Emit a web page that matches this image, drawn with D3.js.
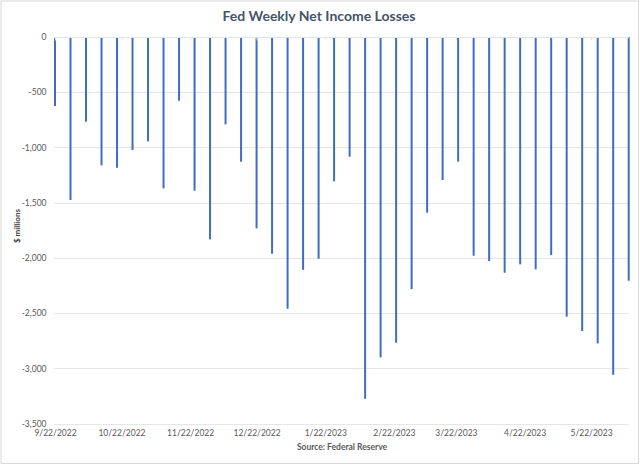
<!DOCTYPE html>
<html>
<head>
<meta charset="utf-8">
<script src="https://cdn.jsdelivr.net/npm/d3@7"></script>
<style>
  html, body { margin: 0; padding: 0; background: #fff; }
  svg { display: block; font-family: Lato, "Open Sans", sans-serif; }
</style>
</head>
<body>
<svg id="chart" width="640" height="465"></svg>
<script>
// ---- data ----
const firstWeek = "2022-09-22";
const values = [
  -625, -1476, -767, -1162, -1184, -1024, -945, -1371, -577, -1392,
  -1833, -791, -1129, -1733, -1963, -2461, -2108, -2008, -1307, -1084,
  -3276, -2901, -2769, -2283, -1591, -1295, -1129, -1981, -2029, -2135,
  -2059, -2104, -1975, -2533, -2663, -2775, -3059, -2207
];
const xTickLabels = ["9/22/2022", "10/22/2022", "11/22/2022", "12/22/2022",
  "1/22/2023", "2/22/2023", "3/22/2023", "4/22/2023", "5/22/2023"];
const yTicks = [0, -500, -1000, -1500, -2000, -2500, -3000, -3500];
const title = "Fed Weekly Net Income Losses";
const yLabel = "$ millions";
const source = "Source: Federal Reserve";

// ---- build ----
const parse = d3.timeParse("%Y-%m-%d");
const parseTick = d3.timeParse("%m/%d/%Y");
const start = parse(firstWeek);
const data = values.map((v, i) => ({ date: d3.timeDay.offset(start, 7 * i), value: v }));
const tickDates = xTickLabels.map(s => parseTick(s));

const svg = d3.select("#chart");
const W = 640, H = 465;

// chart area border
svg.append("rect").attr("x", 1).attr("y", 1).attr("width", W - 2.5).attr("height", H - 2.5)
  .attr("fill", "#fff").attr("stroke", "#d9d9d9").attr("stroke-width", 1);

const x = d3.scaleTime()
  .domain([start, data[data.length - 1].date])
  .range([55, 628.7]);
const y = d3.scaleLinear().domain([-3500, 0]).range([423.5, 37]);

const plotLeft = 54, plotRight = 629;

// gridlines
svg.append("g").selectAll("line").data(yTicks.filter(t => t !== 0)).join("line")
  .attr("x1", plotLeft).attr("x2", plotRight)
  .attr("y1", d => Math.round(y(d)) + 0.5).attr("y2", d => Math.round(y(d)) + 0.5)
  .attr("stroke", "#e6e6e6").attr("stroke-width", 1);

// y axis labels
const yAxis = d3.axisLeft(y).tickValues(yTicks).tickSize(0).tickPadding(0)
  .tickFormat(d => d3.format(",")(d).replace("−", "-"));
const gy = svg.append("g").attr("transform", "translate(46.5,0)").call(yAxis);
gy.select(".domain").remove();
gy.selectAll("text").attr("fill", "#595959").attr("font-size", "8.5px")
  .attr("font-family", "Lato, 'Open Sans', sans-serif");

// bars
svg.append("g").selectAll("rect").data(data).join("rect")
  .attr("x", d => x(d.date) - 1)
  .attr("width", 2)
  .attr("y", d => y(0))
  .attr("height", d => y(d.value) - y(0))
  .attr("fill", "#3f6dc6");

// zero axis line
svg.append("line").attr("x1", plotLeft).attr("x2", plotRight)
  .attr("y1", 37.5).attr("y2", 37.5).attr("stroke", "#e3e3e3").attr("stroke-width", 1);

// x axis (ticks at zero line, labels at bottom)
const xTicksG = svg.append("g").attr("transform", "translate(0,37.5)")
  .call(d3.axisBottom(x).tickValues(tickDates).tickSize(3).tickFormat(""));
xTicksG.select(".domain").remove();
xTicksG.selectAll("line").attr("stroke", "#e3e3e3");

const xLabels = svg.append("g").attr("transform", "translate(0,429.5)")
  .call(d3.axisBottom(x).tickValues(tickDates).tickSize(0).tickPadding(0)
    .tickFormat((d, i) => xTickLabels[i]));
xLabels.select(".domain").remove();
xLabels.selectAll("text").attr("fill", "#595959").attr("font-size", "8.5px")
  .attr("font-family", "Lato, 'Open Sans', sans-serif").attr("dy", "0.71em");

// title
svg.append("text").attr("x", 319).attr("y", 21).attr("text-anchor", "middle")
  .attr("font-size", "14px").attr("font-weight", "bold").attr("fill", "#44546a")
  .text(title);

// y label
svg.append("text").attr("transform", "translate(20,226) rotate(-90)")
  .attr("text-anchor", "middle").attr("font-size", "8px").attr("font-weight", "bold")
  .attr("fill", "#404040").text(yLabel);

// source
svg.append("text").attr("x", 342).attr("y", 450).attr("text-anchor", "middle")
  .attr("font-size", "8.5px").attr("font-weight", "bold").attr("fill", "#595959")
  .text(source);
</script>
</body>
</html>
